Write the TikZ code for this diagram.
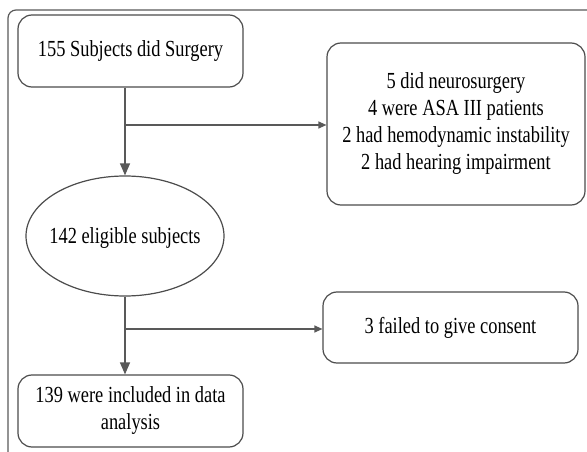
\documentclass[tikz,border=0pt]{standalone}
\usepackage{fontspec}
\setmainfont[FakeStretch=0.8]{Liberation Serif}
\usetikzlibrary{arrows.meta,shapes.geometric}
\begin{document}
\begin{tikzpicture}[x=1pt,y=-1pt,
  every node/.style={font=\fontsize{23}{27}\selectfont, text=black, align=center},
  rbox/.style={draw=black!70, line width=1.2pt, rounded corners=14pt, inner sep=0pt},
  conn/.style={draw=black!65, line width=1.2pt},
  arr/.style={conn, -{Triangle[length=12pt,width=10pt]}},
  sarr/.style={conn, -{Triangle[length=8pt,width=7pt]}}]
\useasboundingbox (0,0) rectangle (587,452);
\draw[draw=black!65, line width=1.2pt, rounded corners=8pt] (8,460) -- (8,10) -- (595,10);
\node[rbox, minimum width=225pt, minimum height=72pt] (b1) at (130.5,51) {155 Subjects did Surgery};
\node[rbox, minimum width=258pt, minimum height=162pt] (b2) at (456,124) {5 did neurosurgery\\4 were ASA III patients\\2 had hemodynamic instability\\2 had hearing impairment};
\node[draw=black!70, line width=1.2pt, ellipse, inner sep=0pt, minimum width=198pt, minimum height=120pt] (el) at (125,236) {};
\node (elt) at (125,238) {142 eligible subjects};
\node[rbox, minimum width=255pt, minimum height=71pt] (b4) at (450.5,327.5) {3 failed to give consent};
\node[rbox, minimum width=225pt, minimum height=72pt] (b3) at (130.5,411) {139 were included in data\\analysis};
\coordinate (j1) at (125,125);
\coordinate (j2) at (125,329);
\draw[arr] (b1.south -| el.north) -- (el.north);
\draw[sarr] (j1) -- (j1 -| b2.west);
\draw[arr] (el.south) -- (el.south |- b3.north);
\draw[sarr] (j2) -- (j2 -| b4.west);
\end{tikzpicture}
\end{document}
